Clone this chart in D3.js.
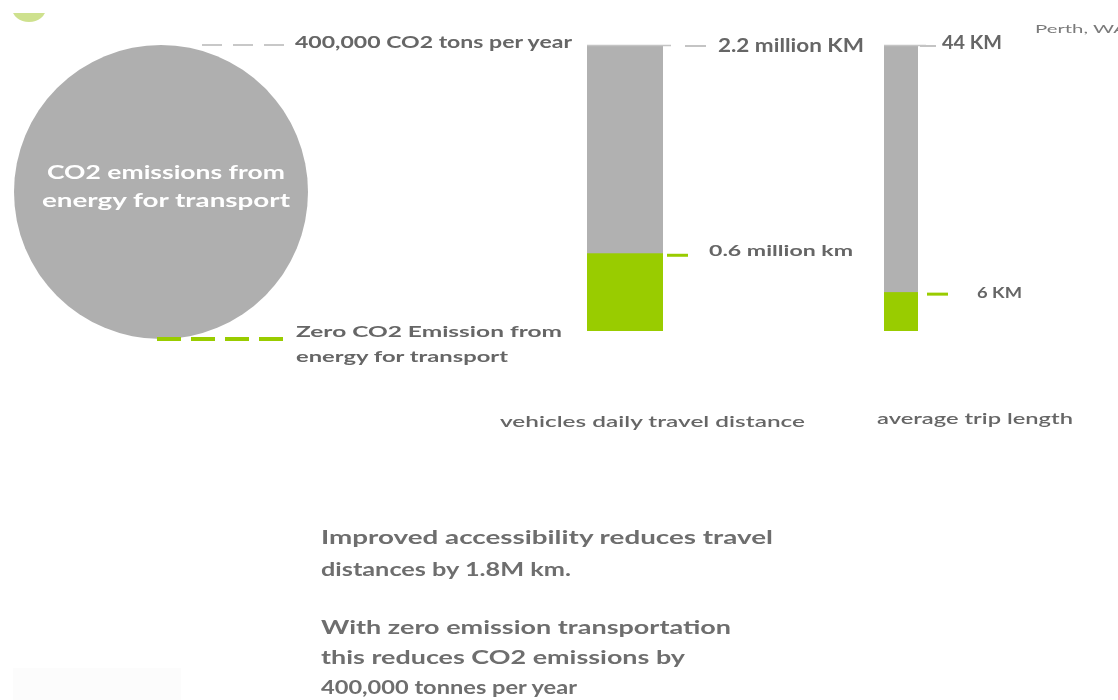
<!DOCTYPE html>
<html>
<head>
<meta charset="utf-8">
<script src="https://cdn.jsdelivr.net/npm/d3@7/dist/d3.min.js"></script>
<style>
  html, body { margin: 0; padding: 0; background: #ffffff; }
  svg { display: block; }
</style>
</head>
<body>
<svg id="chart" width="1118" height="700"></svg>
<script>
// Emissions circle: current annual CO2 from transport energy vs. zero-emission scenario
const emissionValue = 400000;          // CO2 tons per year
const emissionLabel = "400,000 CO2 tons per year";
const circleText = ["CO2 emissions from", "energy for transport"];
const zeroLabel = ["Zero CO2  Emission from", "energy for transport"];

// Stacked bars: total vs. reduced value for each measure
const barCategories = ["vehicles daily travel distance", "average trip length"];
const totalValues = [2.2, 44];
const reducedValues = [0.6, 6];
const totalLabels = ["2.2 million KM", "44 KM"];
const reducedLabels = ["0.6 million km", "6 KM"];
const locationNote = "Perth, WA";

const summaryLines = [
  ["Improved accessibility reduces travel", "distances by 1.8M km."],
  ["With zero emission transportation", "this reduces CO2 emissions by", "400,000 tonnes per year"]
];

const GREY = "#b1b1b1";
const GREEN = "#99cc00";
const TEXT = "#666666";
const FONT = "Lato, 'Open Sans', sans-serif";

const svg = d3.select("#chart");
const defs = svg.append("defs");
defs.append("filter").attr("id", "soft")
  .append("feGaussianBlur").attr("stdDeviation", 0.55);
defs.append("clipPath").attr("id", "cornerClip")
  .append("rect").attr("x", 0).attr("y", 13).attr("width", 60).attr("height", 20);

const root = svg.append("g").attr("filter", "url(#soft)");

// small decorative mark at the top-left corner
root.append("ellipse")
  .attr("clip-path", "url(#cornerClip)")
  .attr("cx", 29).attr("cy", 8).attr("rx", 17).attr("ry", 14)
  .attr("fill", "#c6dc7a").attr("opacity", 0.85);
root.append("rect")
  .attr("x", 13).attr("y", 668).attr("width", 168).attr("height", 32)
  .attr("fill", "#fcfcfc");

// ---- emissions circle ----
const rScale = d3.scaleSqrt().domain([0, emissionValue]).range([0, 147]);
const cx = 161, cy = 192;
const r = rScale(emissionValue);

root.append("line")
  .attr("x1", 202).attr("x2", 290)
  .attr("y1", cy - r).attr("y2", cy - r)
  .attr("stroke", "#c8c8c8").attr("stroke-width", 2.2)
  .attr("stroke-dasharray", "20,11");

root.append("circle")
  .attr("cx", cx).attr("cy", cy).attr("r", r)
  .attr("fill", "#afafaf");

root.append("line")
  .attr("x1", 157).attr("x2", 285)
  .attr("y1", 339).attr("y2", 339)
  .attr("stroke", GREEN).attr("stroke-width", 4)
  .attr("stroke-dasharray", "24,10");

root.append("g").selectAll("text").data(circleText).join("text")
  .attr("x", 166).attr("y", (d, i) => 179 + i * 28)
  .attr("text-anchor", "middle")
  .attr("fill", "#ffffff")
  .attr("font-family", FONT).attr("font-weight", 700).attr("font-size", 19)
  .attr("textLength", (d, i) => i === 0 ? 238 : 248)
  .attr("lengthAdjust", "spacingAndGlyphs")
  .text(d => d);

root.append("text")
  .attr("x", 295).attr("y", 48)
  .attr("fill", TEXT)
  .attr("font-family", FONT).attr("font-weight", 700).attr("font-size", 17)
  .attr("textLength", 277).attr("lengthAdjust", "spacingAndGlyphs")
  .text(emissionLabel);

root.append("g").selectAll("text").data(zeroLabel).join("text")
  .attr("x", 296).attr("y", (d, i) => 337 + i * 25)
  .attr("fill", TEXT)
  .attr("font-family", FONT).attr("font-weight", 700).attr("font-size", 16)
  .attr("textLength", (d, i) => i === 0 ? 266 : 212)
  .attr("lengthAdjust", "spacingAndGlyphs")
  .text(d => d);

// ---- stacked bars ----
const barBottom = 331, barTop = 46;
const bars = [
  { x: 587, w: 76, tickTop: [685, 706], tickLow: [667, 688], labelX: 718, lowX: 709,
    topW: 146, lowW: 144, topDy: 6, lowDy: 3, catX: 500, catW: 305, catY: 427 },
  { x: 884, w: 34, tickTop: [920, 936], tickLow: [927, 948], labelX: 942, lowX: 977,
    topW: 60, lowW: 45, topDy: 3, lowDy: 6, catX: 877, catW: 196, catY: 424 }
];

bars.forEach((b, i) => {
  const y = d3.scaleLinear().domain([0, totalValues[i]]).range([barBottom, barTop]);
  const g = root.append("g");

  g.append("rect")
    .attr("x", b.x).attr("width", b.w)
    .attr("y", y(totalValues[i])).attr("height", y(0) - y(totalValues[i]))
    .attr("fill", GREY);
  g.append("rect")
    .attr("x", b.x).attr("width", b.w)
    .attr("y", y(reducedValues[i])).attr("height", y(0) - y(reducedValues[i]))
    .attr("fill", GREEN);

  // leader at the top of the bar
  g.append("line")
    .attr("x1", b.x).attr("x2", b.x + b.w + 8)
    .attr("y1", y(totalValues[i]) - 0.5).attr("y2", y(totalValues[i]) - 0.5)
    .attr("stroke", "#c4c4c4").attr("stroke-width", 1.6);
  g.append("line")
    .attr("x1", b.tickTop[0]).attr("x2", b.tickTop[1])
    .attr("y1", y(totalValues[i])).attr("y2", y(totalValues[i]))
    .attr("stroke", "#c4c4c4").attr("stroke-width", 2);

  // leader at the reduced value
  g.append("line")
    .attr("x1", b.tickLow[0]).attr("x2", b.tickLow[1])
    .attr("y1", y(reducedValues[i]) + 2).attr("y2", y(reducedValues[i]) + 2)
    .attr("stroke", GREEN).attr("stroke-width", 3);

  g.append("text")
    .attr("x", b.labelX).attr("y", y(totalValues[i]) + b.topDy)
    .attr("fill", TEXT)
    .attr("font-family", FONT).attr("font-weight", 700).attr("font-size", 18)
    .attr("textLength", b.topW).attr("lengthAdjust", "spacingAndGlyphs")
    .text(totalLabels[i]);

  g.append("text")
    .attr("x", b.lowX).attr("y", y(reducedValues[i]) + b.lowDy)
    .attr("fill", TEXT)
    .attr("font-family", FONT).attr("font-weight", 700).attr("font-size", 16)
    .attr("textLength", b.lowW).attr("lengthAdjust", "spacingAndGlyphs")
    .text(reducedLabels[i]);

  g.append("text")
    .attr("x", b.catX).attr("y", b.catY)
    .attr("fill", TEXT)
    .attr("font-family", FONT).attr("font-weight", 600).attr("font-size", 15)
    .attr("textLength", b.catW).attr("lengthAdjust", "spacingAndGlyphs")
    .text(barCategories[i]);
});

root.append("text")
  .attr("x", 1035).attr("y", 33)
  .attr("fill", "#7a7a7a")
  .attr("font-family", FONT).attr("font-size", 11.5)
  .attr("textLength", 92).attr("lengthAdjust", "spacingAndGlyphs")
  .text(locationNote);

// ---- summary paragraph ----
const lineY = [[544, 576], [634, 664, 694]];
const lineW = [[452, 250], [410, 364, 256]];
summaryLines.forEach((para, p) => {
  root.append("g").selectAll("text").data(para).join("text")
    .attr("x", 321).attr("y", (d, i) => lineY[p][i])
    .attr("fill", "#6e6e6e")
    .attr("font-family", FONT).attr("font-weight", 700).attr("font-size", 18)
    .attr("textLength", (d, i) => lineW[p][i])
    .attr("lengthAdjust", "spacingAndGlyphs")
    .text(d => d);
});
</script>
</body>
</html>
